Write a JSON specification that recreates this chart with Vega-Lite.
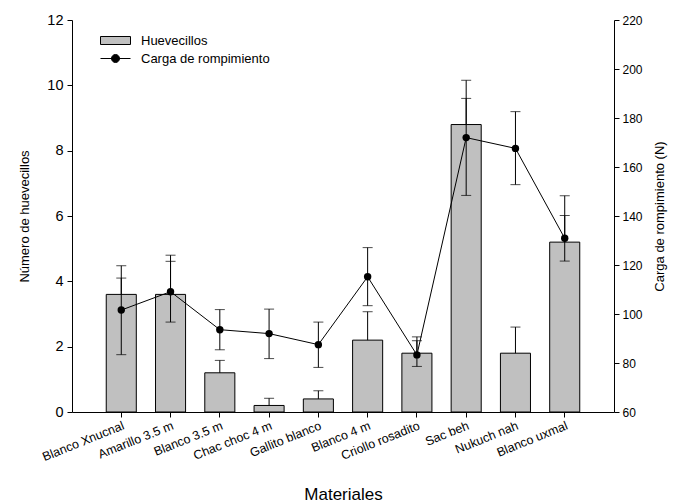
{
  "$schema": "https://vega.github.io/schema/vega-lite/v6.json",
  "width": 542,
  "height": 392,
  "autosize": "none",
  "padding": {"left": 72, "top": 20, "right": 66, "bottom": 91},
  "background": "white",
  "config": {
    "font": "Liberation Sans",
    "view": {"stroke": null},
    "axis": {"domainColor": "black", "tickColor": "black", "labelColor": "black", "titleColor": "black", "grid": false, "titleFontWeight": "normal", "labelFont": "Liberation Sans", "titleFont": "Liberation Sans", "tickSize": 5}
  },
  "data": {"values": [
    {"material": "Blanco Xnucnal", "hue": 3.6, "hue_hi": 4.1, "carga": 101.6, "carga_lo": 83.4, "carga_hi": 119.7},
    {"material": "Amarillo 3.5 m", "hue": 3.6, "hue_hi": 4.8, "carga": 109.1, "carga_lo": 96.7, "carga_hi": 121.5},
    {"material": "Blanco 3.5 m", "hue": 1.2, "hue_hi": 1.58, "carga": 93.6, "carga_lo": 85.4, "carga_hi": 101.8},
    {"material": "Chac choc 4 m", "hue": 0.2, "hue_hi": 0.42, "carga": 92.0, "carga_lo": 81.8, "carga_hi": 102.0},
    {"material": "Gallito blanco", "hue": 0.4, "hue_hi": 0.65, "carga": 87.5, "carga_lo": 78.2, "carga_hi": 96.7},
    {"material": "Blanco  4 m", "hue": 2.2, "hue_hi": 3.07, "carga": 115.2, "carga_lo": 103.4, "carga_hi": 127.1},
    {"material": "Criollo rosadito", "hue": 1.8, "hue_hi": 2.3, "carga": 83.3, "carga_lo": 78.6, "carga_hi": 89.1},
    {"material": "Sac beh", "hue": 8.8, "hue_hi": 9.6, "carga": 172.0, "carga_lo": 148.4, "carga_hi": 195.4},
    {"material": "Nukuch nah", "hue": 1.8, "hue_hi": 2.6, "carga": 167.6, "carga_lo": 152.8, "carga_hi": 182.6},
    {"material": "Blanco uxmal", "hue": 5.2, "hue_hi": 6.62, "carga": 130.9, "carga_lo": 121.6, "carga_hi": 140.2}
  ]},
  "encoding": {
    "x": {
      "field": "material", "type": "nominal", "sort": null,
      "scale": {"paddingInner": 0.39, "paddingOuter": 0.695},
      "axis": {"title": "Materiales", "titleFontSize": 17, "titleY": 82, "titleBaseline": "middle", "labelAngle": -22, "labelFontSize": 12.5, "labelAlign": "right", "labelBaseline": "top", "labelPadding": 2, "labelDx": 4}
    }
  },
  "layer": [
    {
      "layer": [
        {
          "mark": {"type": "bar", "stroke": "black", "strokeWidth": 1},
          "encoding": {
            "y": {"field": "hue", "type": "quantitative", "title": "Número de huevecillos", "scale": {"domain": [0, 12], "nice": false},
              "axis": {"orient": "left", "values": [0, 2, 4, 6, 8, 10, 12], "labelFontSize": 14.5, "titleFontSize": 13, "titlePadding": 15, "labelPadding": 4}},
            "fill": {"datum": "Huevecillos", "scale": {"range": ["#c0c0c0"]},
              "legend": {"title": null, "orient": "none", "legendX": 37, "legendY": 14, "symbolType": "M-3,-0.8H3V0.8H-3Z", "symbolSize": 100, "symbolStrokeColor": "black", "symbolStrokeWidth": 1, "labelFontSize": 13, "labelColor": "black", "labelOffset": 19, "padding": 0}}
          }
        },
        {
          "mark": {"type": "rule", "color": "black", "strokeWidth": 1},
          "encoding": {
            "y": {"field": "hue", "type": "quantitative", "title": "Número de huevecillos"},
            "y2": {"field": "hue_hi"}
          }
        },
        {
          "mark": {"type": "tick", "color": "black", "thickness": 1, "size": 10},
          "encoding": {
            "y": {"field": "hue_hi", "type": "quantitative", "title": "Número de huevecillos"}
          }
        }
      ]
    },
    {
      "layer": [
        {
          "mark": {"type": "rule", "color": "black", "strokeWidth": 1},
          "encoding": {
            "y": {"field": "carga_lo", "type": "quantitative", "title": "Carga de rompimiento (N)", "scale": {"domain": [60, 220], "nice": false},
              "axis": {"orient": "right", "values": [60, 80, 100, 120, 140, 160, 180, 200, 220], "labelFontSize": 12, "titleFontSize": 13, "titleAngle": -90, "titlePadding": 24, "labelPadding": 3}},
            "y2": {"field": "carga_hi"}
          }
        },
        {
          "mark": {"type": "tick", "color": "black", "thickness": 1, "size": 10},
          "encoding": {"y": {"field": "carga_lo", "type": "quantitative", "title": "Carga de rompimiento (N)"}}
        },
        {
          "mark": {"type": "tick", "color": "black", "thickness": 1, "size": 10},
          "encoding": {"y": {"field": "carga_hi", "type": "quantitative", "title": "Carga de rompimiento (N)"}}
        },
        {
          "mark": {"type": "line", "strokeWidth": 1},
          "encoding": {
            "y": {"field": "carga", "type": "quantitative", "title": "Carga de rompimiento (N)"},
            "stroke": {"datum": "Carga de rompimiento", "scale": {"range": ["black"]},
              "legend": {"title": null, "orient": "none", "legendX": 37, "legendY": 32, "symbolType": "M-3,0H3M0.8,0A0.8,0.8 0 1,1 -0.8,0A0.8,0.8 0 1,1 0.8,0Z", "symbolSize": 100, "symbolStrokeColor": "black", "symbolFillColor": "black", "symbolStrokeWidth": 1, "labelFontSize": 13, "labelColor": "black", "labelOffset": 19, "padding": 0}}
          }
        },
        {
          "mark": {"type": "point", "filled": true, "color": "black", "size": 55, "opacity": 1},
          "encoding": {
            "y": {"field": "carga", "type": "quantitative", "title": "Carga de rompimiento (N)"}
          }
        }
      ]
    }
  ],
  "resolve": {"scale": {"y": "independent"}}
}
